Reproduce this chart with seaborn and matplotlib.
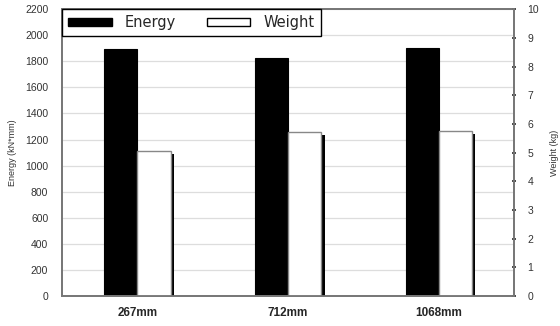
import seaborn as sns
import pandas as pd
import matplotlib.pyplot as plt
import matplotlib.patheffects as pe
from matplotlib.patches import Patch

# Data
lengths = ["267mm", "712mm", "1068mm"]
energy = [1895, 1825, 1905]   # kN*mm
weight = [5.05, 5.7, 5.75]    # kg

df = pd.DataFrame({
    "length": lengths * 2,
    "series": ["Energy"] * 3 + ["Weight"] * 3,
    "energy": energy + [float("nan")] * 3,
    "weight": [float("nan")] * 3 + weight,
})

sns.set_theme(style="white")
plt.rcParams["font.family"] = ["Liberation Sans", "DejaVu Sans"]

fig, ax = plt.subplots(figsize=(5.6, 3.26), dpi=100)
fig.subplots_adjust(left=0.111, right=0.918, top=0.972, bottom=0.092)
ax2 = ax.twinx()

order = ["Energy", "Weight"]
sns.barplot(data=df, x="length", y="energy", hue="series", hue_order=order,
            palette={"Energy": "black", "Weight": "white"}, width=0.44,
            edgecolor="black", linewidth=0.8, ax=ax, legend=False, errorbar=None)
sns.barplot(data=df, x="length", y="weight", hue="series", hue_order=order,
            palette={"Energy": "black", "Weight": "white"}, width=0.44,
            edgecolor="#888888", linewidth=1.0, ax=ax2, legend=False, errorbar=None)

# drop shadow on the white bars
for p in ax2.patches:
    p.set_path_effects([pe.SimplePatchShadow(offset=(2.5, -2), shadow_rgbFace="black", alpha=1),
                        pe.Normal()])

ax.set_ylim(0, 2200)
ax.set_yticks(range(0, 2201, 200))
ax2.set_ylim(0, 10)
ax2.set_yticks(range(0, 11))
ax.set_xlim(-0.5, 2.5)

ax.yaxis.grid(True, color="#dddddd", linewidth=0.9)
ax.set_axisbelow(True)

ax.set_xlabel("")
ax.set_ylabel("Energy (kN*mm)", fontsize=6.5, color="#333333", labelpad=6)
ax2.set_ylabel("Weight (kg)", fontsize=6.5, color="#333333", labelpad=8)

ax.tick_params(axis="y", labelsize=7.5, colors="#333333", length=0, pad=10)
ax2.tick_params(axis="y", labelsize=7.5, colors="#333333", length=3, direction="inout", pad=8)
ax.tick_params(axis="x", labelsize=8.5, length=0, pad=8)
for lbl in ax.get_xticklabels():
    lbl.set_fontweight("bold")

for a in (ax, ax2):
    for s in a.spines.values():
        s.set_color("#777777")
        s.set_linewidth(1.3)

handles = [Patch(facecolor="black", edgecolor="black", label="Energy"),
           Patch(facecolor="white", edgecolor="black", label="Weight")]
leg = ax2.legend(handles=handles, ncol=2, loc="upper left", bbox_to_anchor=(0, 1),
                 borderaxespad=0, fancybox=False, framealpha=1, edgecolor="black",
                 handlelength=3.0, handleheight=0.5, handletextpad=0.9,
                 columnspacing=2.1, borderpad=0.4,
                 prop={"family": "DejaVu Sans", "size": 10.5})
leg.get_frame().set_linewidth(1.0)

fig.savefig("out.png", dpi=100)
